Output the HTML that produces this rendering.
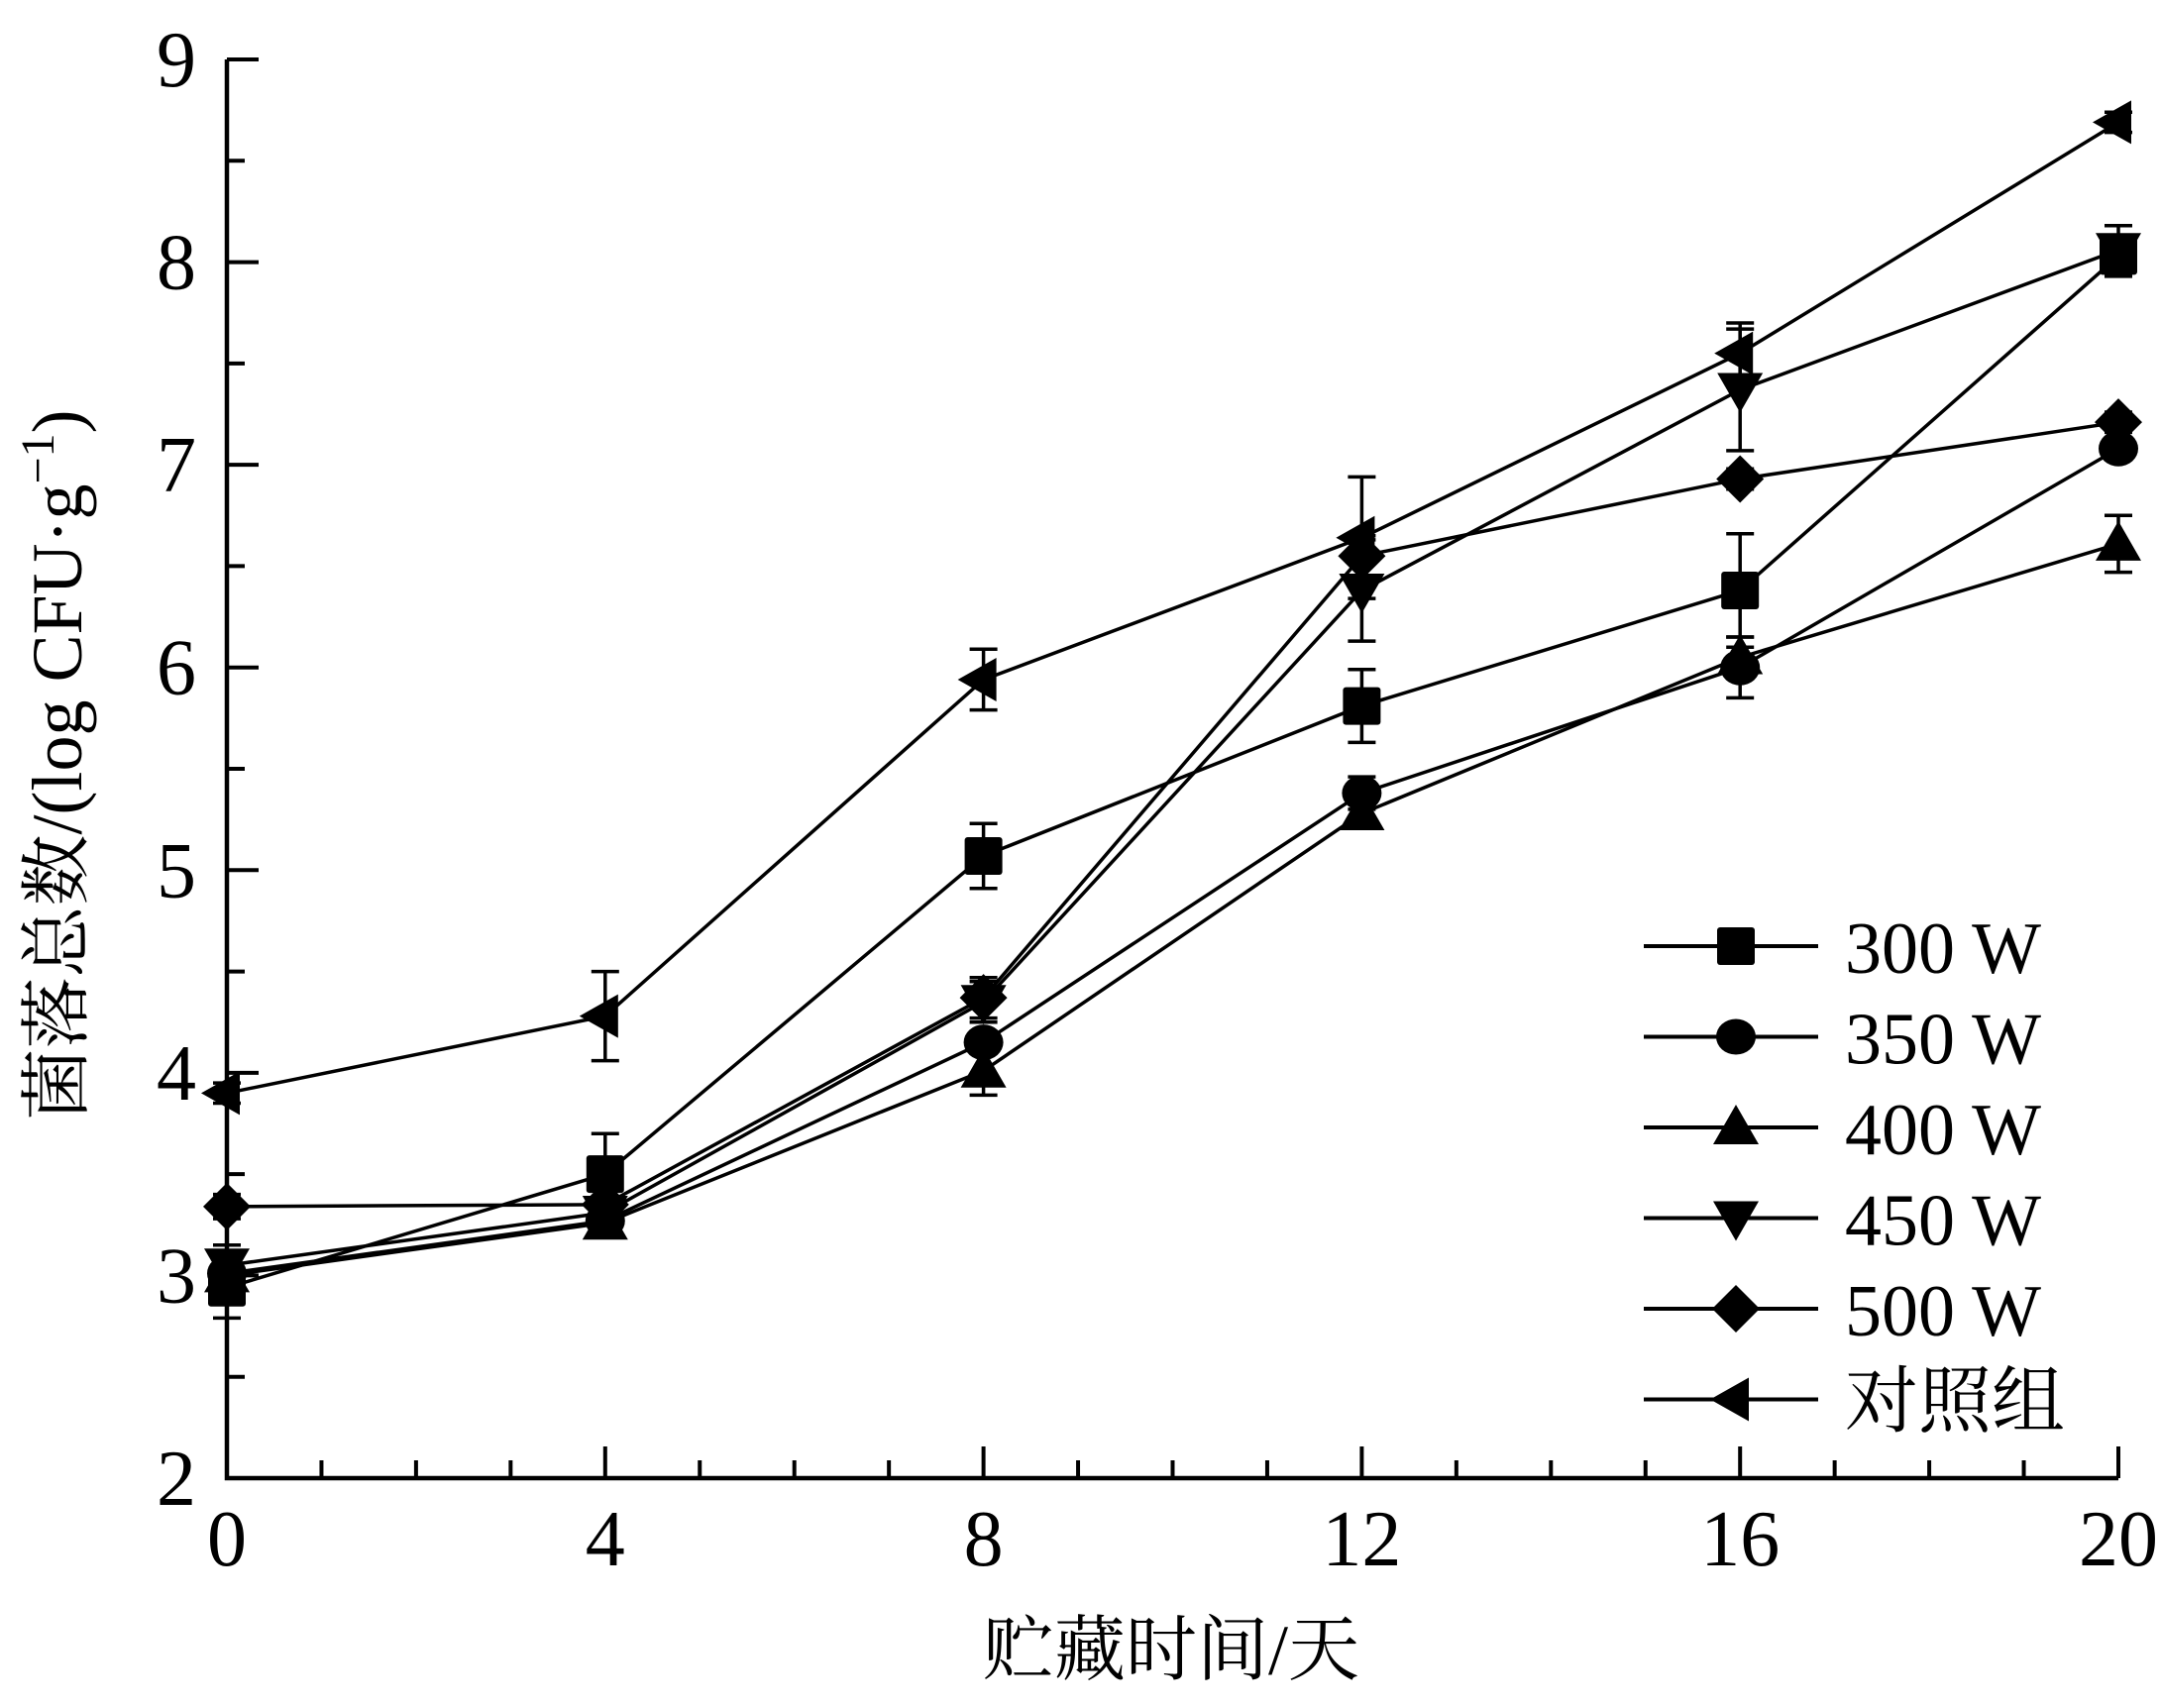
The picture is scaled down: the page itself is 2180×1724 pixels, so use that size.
<!DOCTYPE html>
<html><head><meta charset="utf-8"><style>
html,body{margin:0;padding:0;background:#fff;}
svg{display:block;}
text{font-family:"Liberation Serif","Noto Serif CJK SC",serif;fill:#000;}
</style></head><body>
<svg id="chart" width="2180" height="1724" viewBox="0 0 2180 1724"></svg>
<script>
const days = [0,4,8,12,16,20];
const seriesNames = ["300 W","350 W","400 W","450 W","500 W","对照组"];
const markers = ["square","circle","up","down","diamond","left"];
const v300 = [2.94,3.50,5.07,5.81,6.38,8.03];
const v350 = [3.01,3.27,4.15,5.38,6.00,7.08];
const v400 = [3.00,3.26,4.01,5.28,6.05,6.61];
const v450 = [3.05,3.31,4.35,6.38,7.37,8.06];
const v500 = [3.34,3.35,4.37,6.55,6.93,7.21];
const vCtrl = [3.90,4.28,5.94,6.64,7.55,8.69];
const e300 = [0.15,0.20,0.16,0.18,0.28,0.10];
const e350 = [0.08,0.05,0.05,0.08,0.15,0.05];
const e400 = [0.06,0.03,0.12,0.07,0.10,0.14];
const e450 = [0.10,0.05,0.10,0.25,0.30,0.12];
const e500 = [0.06,0.03,0.10,0.10,0.05,0.05];
const eCtrl = [0.05,0.22,0.15,0.30,0.15,0.05];
const xTicks = [0,4,8,12,16,20];
const yTicks = [2,3,4,5,6,7,8,9];

const allV=[v300,v350,v400,v450,v500,vCtrl], allE=[e300,e350,e400,e450,e500,eCtrl];
const svg=document.getElementById('chart'), NS='http://www.w3.org/2000/svg';
const X=d=>229+(d-0)*(2138-229)/20;
const Y=v=>1492-(v-2)*(1492-60)/7;
function mk(tag,attrs,parent){const e=document.createElementNS(NS,tag);for(const k in attrs)e.setAttribute(k,attrs[k]);(parent||svg).appendChild(e);return e;}

// axes
let g=mk('g',{});


mk('path',{d:`M${X(0)} ${Y(9)} V${Y(2)} H${X(20)}`,stroke:'#000','stroke-width':4.5,fill:'none'},g);
for(let d=0;d<=20;d++){const L=d%4===0?32:18;mk('line',{x1:X(d),x2:X(d),y1:Y(2),y2:Y(2)-L,stroke:'#000','stroke-width':4},g);}
for(let v=2;v<=9;v+=0.5){const L=Number.isInteger(v)?32:18;mk('line',{x1:X(0),x2:X(0)+L,y1:Y(v),y2:Y(v),stroke:'#000','stroke-width':4},g);}
xTicks.forEach(t=>{const e=mk('text',{x:X(t),y:Y(2)+88,'font-size':80,'text-anchor':'middle'},g);e.textContent=t;

});
yTicks.forEach(t=>{const e=mk('text',{x:198,y:Y(t)+27,'font-size':80,'text-anchor':'end'},g);e.textContent=t;

});
let xt=mk('text',{x:1182,y:1690,'font-size':72,'text-anchor':'middle'});xt.textContent='贮藏时间/天';


let yt=mk('text',{x:0,y:0,'font-size':72,'text-anchor':'middle',transform:'translate(82,772) rotate(-90)'});
yt.innerHTML='菌落总数/(log CFU·g<tspan dy="-28" font-size="48">−1</tspan><tspan dy="28">)</tspan>';



function marker(type,x,y,p){const s=19;let e;
 if(type==='square')e=mk('rect',{x:x-s,y:y-s,width:2*s,height:2*s,rx:3},p);
 else if(type==='circle')e=mk('ellipse',{cx:x,cy:y,rx:s+1,ry:s-1},p);
 else if(type==='up')e=mk('polygon',{points:`${x},${y-23} ${x-23},${y+17} ${x+23},${y+17}`},p);
 else if(type==='down')e=mk('polygon',{points:`${x},${y+23} ${x-23},${y-17} ${x+23},${y-17}`},p);
 else if(type==='diamond')e=mk('polygon',{points:`${x},${y-24} ${x+24},${y} ${x},${y+24} ${x-24},${y}`},p);
 else e=mk('polygon',{points:`${x-26},${y} ${x+13},${y-22} ${x+13},${y+22}`},p);
 e.setAttribute('fill','#000');return e;}

allV.forEach((vals,si)=>{
 const sg=mk('g',{});
 
 
 mk('polyline',{points:days.map((d,i)=>X(d)+','+Y(vals[i])).join(' '),fill:'none',stroke:'#000','stroke-width':3.5},sg);
 days.forEach((d,i)=>{const x=X(d),y1=Y(vals[i]+allE[si][i]),y2=Y(vals[i]-allE[si][i]);
  mk('path',{d:`M${x} ${y1} V${y2} M${x-14} ${y1} H${x+14} M${x-14} ${y2} H${x+14}`,stroke:'#000','stroke-width':3.5,fill:'none'},sg);
  const m=marker(markers[si],x,Y(vals[i]),sg);
  
  
 });
});

// legend
const lg=mk('g',{});


seriesNames.forEach((n,i)=>{const y=955+i*91.5;
 const eg=mk('g',{},lg);
 
 
 mk('line',{x1:1659,x2:1835,y1:y,y2:y,stroke:'#000','stroke-width':4},eg);
 marker(markers[i],1752,y,eg);
 const t=mk('text',{x:1862,y:y+27,'font-size':74},eg);t.textContent=n;
});
</script>
</body></html>
